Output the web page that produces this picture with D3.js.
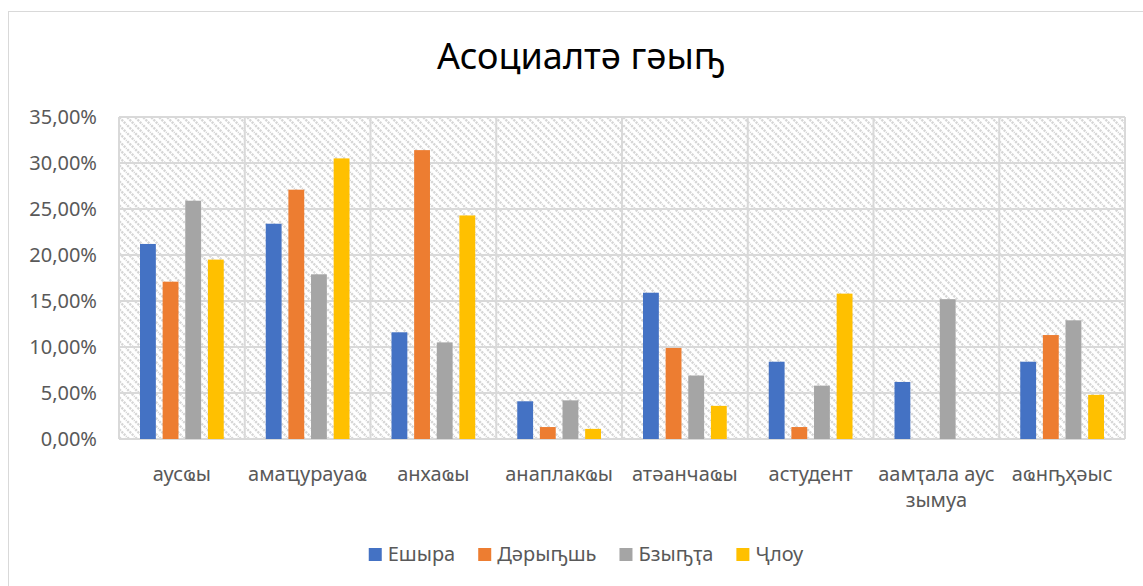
<!DOCTYPE html>
<html>
<head>
<meta charset="utf-8">
<script src="https://cdn.jsdelivr.net/npm/d3@7"></script>
<style>
    body { margin: 0; background: #fff; }
    text { font-family: "Noto Sans", sans-serif; }
</style>
</head>
<body>
<div id="wrapper"></div>
<script>
const categories = ["аусҩы", "амаҵурауаҩ", "анхаҩы", "анаплакҩы", "атәанчаҩы", "астудент", "аамҭала аус зымуа", "аҩнҧҳәыс"];
const seriesNames = ["Ешыра", "Дәрыҧшь", "Бзыҧҭа", "Ҷлоу"];
const seriesColors = ["#4472C4", "#ED7D31", "#A5A5A5", "#FFC000"];

const eshyra  = [0.212, 0.234, 0.116, 0.041, 0.159, 0.084, 0.062, 0.084];
const darypsh = [0.171, 0.271, 0.314, 0.013, 0.099, 0.013, 0, 0.113];
const bzypta  = [0.259, 0.179, 0.105, 0.042, 0.069, 0.058, 0.152, 0.129];
const chlou   = [0.195, 0.305, 0.243, 0.011, 0.036, 0.158, 0, 0.048];
const seriesValues = [eshyra, darypsh, bzypta, chlou];

const yTicks = [0, 0.05, 0.10, 0.15, 0.20, 0.25, 0.30, 0.35];
const chartTitle = "Асоциалтә гәыҧ";

function drawChart() {
    const dimensions = {
        width: 1143,
        height: 586,
        margin: { top: 117, right: 18, bottom: 147, left: 119 }
    };
    dimensions.boundedWidth = dimensions.width - dimensions.margin.left - dimensions.margin.right;
    dimensions.boundedHeight = dimensions.height - dimensions.margin.top - dimensions.margin.bottom;

    const svg = d3.select("#wrapper")
        .append("svg")
        .attr("width", dimensions.width)
        .attr("height", dimensions.height)
        .style("display", "block");

    // hatch pattern for the plot background
    const pattern = svg.append("defs").append("pattern")
        .attr("id", "hatch")
        .attr("patternUnits", "userSpaceOnUse")
        .attr("width", 8)
        .attr("height", 8);
    pattern.append("path")
        .attr("d", "M-2,-2 L10,10 M-2,6 L2,10 M6,-2 L10,2")
        .attr("stroke", "#d6d6d6")
        .attr("stroke-width", 2.4)
        .attr("stroke-dasharray", "2.2 1");

    // chart area border
    svg.append("rect")
        .attr("x", 8.5)
        .attr("y", 11.5)
        .attr("width", 1200)
        .attr("height", 700)
        .attr("fill", "none")
        .attr("stroke", "#d9d9d9");

    svg.append("text")
        .attr("x", 581)
        .attr("y", 69)
        .attr("text-anchor", "middle")
        .style("font-size", "36px")
        .style("fill", "#000")
        .text(chartTitle);

    const bounds = svg.append("g")
        .attr("transform", `translate(${dimensions.margin.left},${dimensions.margin.top})`);

    const x0 = d3.scaleBand()
        .domain(categories)
        .range([0, dimensions.boundedWidth]);

    const x1 = d3.scaleBand()
        .domain(seriesNames)
        .range([21, x0.bandwidth() - 21])
        .paddingInner(0.3);

    const y = d3.scaleLinear()
        .domain([0, 0.35])
        .range([dimensions.boundedHeight, 0]);

    bounds.append("rect")
        .attr("width", dimensions.boundedWidth)
        .attr("height", dimensions.boundedHeight)
        .attr("fill", "url(#hatch)");

    // grid
    bounds.append("g")
        .selectAll("line")
        .data(yTicks)
        .join("line")
        .attr("x1", 0)
        .attr("x2", dimensions.boundedWidth)
        .attr("y1", d => y(d))
        .attr("y2", d => y(d))
        .attr("stroke", "#d9d9d9")
        .attr("stroke-width", 2);

    const xEdges = categories.map(c => x0(c)).concat([dimensions.boundedWidth]);
    bounds.append("g")
        .selectAll("line")
        .data(xEdges)
        .join("line")
        .attr("x1", d => d)
        .attr("x2", d => d)
        .attr("y1", 0)
        .attr("y2", dimensions.boundedHeight)
        .attr("stroke", "#d9d9d9")
        .attr("stroke-width", 2);

    // bars
    const rows = categories.map((c, i) => ({
        category: c,
        values: seriesNames.map((s, j) => ({ series: s, color: seriesColors[j], value: seriesValues[j][i] }))
    }));

    bounds.append("g")
        .selectAll("g")
        .data(rows)
        .join("g")
        .attr("transform", d => `translate(${x0(d.category)},0)`)
        .selectAll("rect")
        .data(d => d.values.filter(v => v.value > 0))
        .join("rect")
        .attr("x", d => x1(d.series))
        .attr("width", x1.bandwidth())
        .attr("y", d => y(d.value))
        .attr("height", d => y(0) - y(d.value))
        .attr("fill", d => d.color);

    // y axis labels
    const locale = d3.formatLocale({ decimal: ",", thousands: " ", grouping: [3], currency: ["", ""] });
    const pct = locale.format(".2%");

    bounds.append("g")
        .selectAll("text")
        .data(yTicks)
        .join("text")
        .attr("x", -22)
        .attr("y", d => y(d))
        .attr("dy", "0.35em")
        .attr("text-anchor", "end")
        .style("font-size", "20px")
        .style("fill", "#595959")
        .text(d => pct(d));

    // x axis labels, wrapped to the band width
    const xLabels = bounds.append("g")
        .selectAll("text")
        .data(categories)
        .join("text")
        .attr("x", d => x0(d) + x0.bandwidth() / 2)
        .attr("y", dimensions.boundedHeight + 42)
        .attr("text-anchor", "middle")
        .style("font-size", "20px")
        .style("fill", "#595959")
        .text(d => d);

    xLabels.each(function(d) {
        const text = d3.select(this);
        const words = d.split(" ");
        text.text(null);
        let line = [];
        let tspan = text.append("tspan").attr("x", text.attr("x")).attr("dy", 0);
        words.forEach(w => {
            line.push(w);
            tspan.text(line.join(" "));
            if (tspan.node().getComputedTextLength() > x0.bandwidth() - 2 && line.length > 1) {
                line.pop();
                tspan.text(line.join(" "));
                line = [w];
                tspan = text.append("tspan").attr("x", text.attr("x")).attr("dy", "1.3em").text(w);
            }
        });
    });

    // legend
    const legend = svg.append("g");
    const items = legend.selectAll("g")
        .data(seriesNames)
        .join("g");
    items.append("rect")
        .attr("y", 548)
        .attr("width", 13)
        .attr("height", 13)
        .attr("fill", (d, i) => seriesColors[i]);
    items.append("text")
        .attr("x", 19)
        .attr("y", 561)
        .style("font-size", "20px")
        .style("fill", "#595959")
        .text(d => d);

    let cursor = 0;
    const offsets = [];
    items.each(function() {
        offsets.push(cursor);
        const w = 19 + d3.select(this).select("text").node().getComputedTextLength();
        cursor += w + 23;
    });
    const totalWidth = cursor - 23;
    const legendStart = 586 - totalWidth / 2;
    items.attr("transform", (d, i) => `translate(${legendStart + offsets[i]},0)`);
}
drawChart();
</script>
</body>
</html>
